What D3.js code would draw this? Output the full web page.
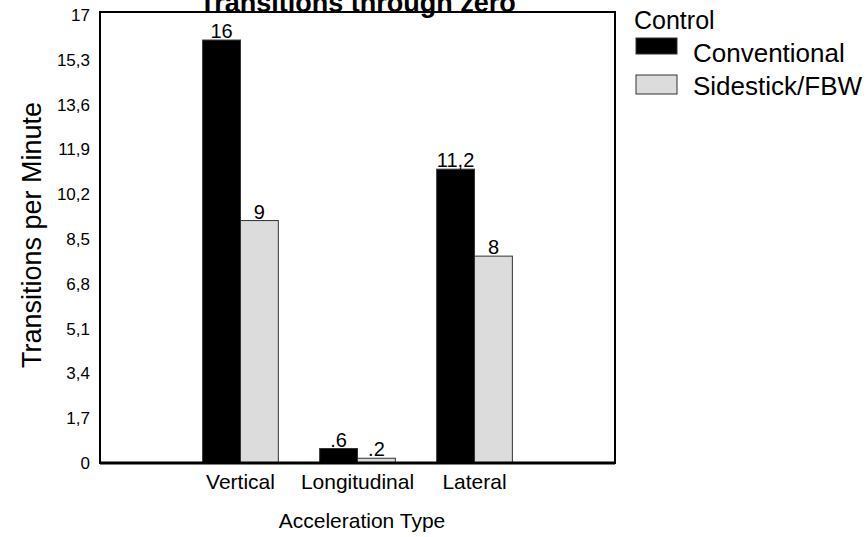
<!DOCTYPE html>
<html><head><meta charset="utf-8">
<script src="https://cdn.jsdelivr.net/npm/d3@7/dist/d3.min.js"></script>
<style>body{margin:0;background:#fff}svg{display:block;font-family:Arial,"Liberation Sans",Helvetica,sans-serif}</style>
</head><body><svg id="c" width="867" height="537"></svg>
<script>
const categories = ["Vertical", "Longitudinal", "Lateral"];
const seriesNames = ["Conventional", "Sidestick/FBW"];
const conventional = [16.05, 0.55, 11.15];
const sidestick = [9.2, 0.18, 7.85];
const conventionalLabels = ["16", ".6", "11,2"];
const sidestickLabels = ["9", ".2", "8"];
const yTicks = [0, 1.7, 3.4, 5.1, 6.8, 8.5, 10.2, 11.9, 13.6, 15.3, 17];
const colors = ["#000000", "#dcdcdc"];

const svg = d3.select("#c");
const L = 100, R = 615, T = 12, B = 463;
const x = d3.scaleBand().domain(categories).range([L, R]).paddingInner(0.353).paddingOuter(0.877);
const xs = d3.scaleBand().domain(seriesNames).range([0, x.bandwidth()]);
const y = d3.scaleLinear().domain([0, 17]).range([B, 15]);
const fmt = v => (Number.isInteger(v) ? String(v) : d3.format(".1f")(v).replace(".", ","));
const FF = "Arial,'Liberation Sans',sans-serif";

// y axis tick labels
const ya = svg.append("g").attr("transform", `translate(${L},0)`)
  .call(d3.axisLeft(y).tickValues(yTicks).tickSize(0).tickPadding(10).tickFormat(fmt));
ya.select(".domain").remove();
ya.attr("font-size", 17);
ya.selectAll("text").style("font-size", "17px").attr("fill", "#000").attr("font-family", FF);

// x axis labels
const xa = svg.append("g").attr("transform", `translate(0,${B})`)
  .call(d3.axisBottom(x).tickSize(0).tickPadding(11));
xa.select(".domain").remove();
xa.attr("font-size", 21);
xa.selectAll("text").style("font-size", "21px").attr("fill", "#000").attr("font-family", FF);

// bars
const series = [conventional, sidestick];
const labels = [conventionalLabels, sidestickLabels];
series.forEach((vals, si) => {
  const g = svg.append("g");
  g.selectAll("rect").data(categories).join("rect")
    .attr("x", (c) => x(c) + xs(seriesNames[si]))
    .attr("y", (c, i) => y(vals[i]))
    .attr("width", xs.bandwidth())
    .attr("height", (c, i) => B - y(vals[i]))
    .attr("fill", colors[si])
    .attr("stroke", "#333").attr("stroke-width", 1);
  g.selectAll("text").data(categories).join("text")
    .attr("x", (c) => x(c) + xs(seriesNames[si]) + xs.bandwidth() / 2)
    .attr("y", (c, i) => y(vals[i]) - 2)
    .attr("text-anchor", "middle").attr("font-size", 20)
    .text((c, i) => labels[si][i]);
});

// frame
svg.append("path")
  .attr("d", `M${L},${B}V${T}H${R}V${B}Z`)
  .attr("fill", "none").attr("stroke", "#000").attr("stroke-width", 2);
svg.append("line").attr("x1", L).attr("x2", R).attr("y1", B).attr("y2", B)
  .attr("stroke", "#000").attr("stroke-width", 3);

// title
svg.append("text").attr("x", (L + R) / 2).attr("y", 12).attr("text-anchor", "middle")
  .attr("font-size", 27).attr("font-weight", "bold").text("Transitions through zero");

// axis titles
svg.append("text").attr("transform", `translate(41,235) rotate(-90)`)
  .attr("text-anchor", "middle").attr("font-size", 27).text("Transitions per Minute");
svg.append("text").attr("x", 362).attr("y", 528).attr("text-anchor", "middle")
  .attr("font-size", 21).text("Acceleration Type");

// legend
const lg = svg.append("g");
lg.append("text").attr("x", 634).attr("y", 29).attr("font-size", 25).text("Control");
seriesNames.forEach((s, i) => {
  lg.append("rect").attr("x", 636).attr("y", i === 0 ? 38 : 75).attr("width", 41).attr("height", i === 0 ? 16 : 19)
    .attr("fill", colors[i]).attr("stroke", "#333").attr("stroke-width", 1);
  lg.append("text").attr("x", 693).attr("y", i === 0 ? 62 : 95).attr("font-size", 26).text(s);
});
</script></body></html>
